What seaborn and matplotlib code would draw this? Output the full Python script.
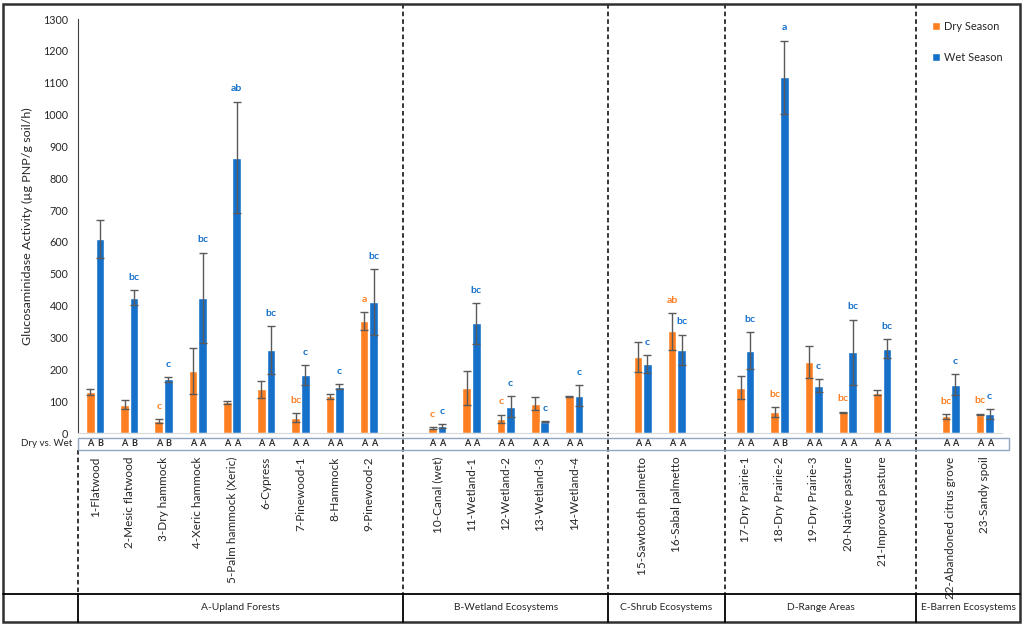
import matplotlib
matplotlib.use("Agg")
import matplotlib.pyplot as plt
import matplotlib.transforms as mtransforms
from matplotlib.lines import Line2D
from matplotlib.patches import Rectangle
import seaborn as sns
import numpy as np
import pandas as pd

sites = ["1-Flatwood", "2-Mesic flatwood", "3-Dry hammock", "4-Xeric hammock",
         "5-Palm hammock (Xeric)", "6-Cypress", "7-Pinewood-1", "8-Hammock",
         "9-Pinewood-2", "10-Canal (wet)", "11-Wetland-1", "12-Wetland-2",
         "13-Wetland-3", "14-Wetland-4", "15-Sawtooth palmetto", "16-Sabal palmetto",
         "17-Dry Prairie-1", "18-Dry Prairie-2", "19-Dry Prairie-3", "20-Native pasture",
         "21-Improved pasture", "22-Abandoned citrus grove", "23-Sandy spoil"]
# slot of each site on the x axis (empty slots separate the ecosystem groups)
slots = [0, 1, 2, 3, 4, 5, 6, 7, 8, 10, 11, 12, 13, 14, 16, 17, 19, 20, 21, 22, 23, 25, 26]

dry = [129, 89, 38, 195, 96, 137, 48, 115, 351, 16, 141, 45, 92, 115, 239, 319,
       142, 66, 223, 65, 127, 52, 58]
dry_err = [10, 15, 6, 72, 6, 26, 15, 9, 29, 2, 54, 13, 21, 2, 48, 58,
           36, 16, 50, 2, 9, 7, 3]
wet = [608, 425, 168, 424, 865, 260, 182, 146, 411, 22, 344, 82, 35, 117, 216, 262,
       259, 1117, 149, 253, 264, 152, 59]
wet_err = [60, 23, 8, 142, 175, 76, 30, 8, 104, 5, 63, 33, 2, 33, 28, 47,
           58, 115, 19, 103, 30, 32, 16]

dry_letters = ["", "", "c", "", "", "", "bc", "", "a", "c", "", "c", "", "", "", "ab",
               "", "bc", "", "bc", "", "bc", "bc"]
wet_letters = ["", "bc", "c", "bc", "ab", "bc", "c", "c", "bc", "c", "bc", "c", "c", "c",
               "c", "bc", "bc", "a", "c", "bc", "bc", "c", "c"]
dry_vs_wet = ["AB", "AB", "AB", "AA", "AA", "AA", "AA", "AA", "AA", "AA", "AA", "AA",
              "AA", "AA", "AA", "AA", "AA", "AB", "AA", "AA", "AA", "AA", "AA"]

groups = ["A-Upland Forests", "B-Wetland Ecosystems", "C-Shrub Ecosystems",
          "D-Range Areas", "E-Barren Ecosystems"]
dividers = [9, 15, 18.4, 24]
ylab = "Glucosaminidase Activity (µg PNP/g soil/h)"

orange = "#FD7F22"
blue = "#1570CA"

sns.set_style("white")
plt.rcParams["font.family"] = ["Lato", "DejaVu Sans"]

W, H = 1024, 625
fig = plt.figure(figsize=(10.24, 6.25), dpi=100)
ax = fig.add_axes([78 / W, 1 - 433 / H, 924 / W, 414 / H])
renderer = fig.canvas.get_renderer()


def fit(text, px, weight="normal"):
    # font size that makes `text` about `px` pixels wide
    t = fig.text(0, 0, text, fontsize=10, fontweight=weight)
    w = t.get_window_extent(renderer).width
    t.remove()
    return 10 * px / w


tick_fs = fit("5-Palm hammock (Xeric)", 126)
ytick_fs = fit("1300", 25)
ylab_fs = fit(ylab, 236)
group_fs = fit("E-Barren Ecosystems", 95)
dvw_fs = fit("Dry vs. Wet", 51)
leg_fs = fit("Dry Season", 55)
let_fs = fit("bc", 11, "bold")

df = pd.DataFrame({
    "slot": slots * 2,
    "value": dry + wet,
    "season": ["Dry Season"] * len(dry) + ["Wet Season"] * len(wet),
})
sns.barplot(data=df, x="slot", y="value", hue="season", native_scale=True,
            width=0.56, gap=0.1, palette=[orange, blue], saturation=1,
            errorbar=None, ax=ax)

off = 0.14
xs = np.array(slots, dtype=float)
ax.errorbar(xs - off, dry, yerr=dry_err, fmt="none", ecolor="#5a5a5a",
            elinewidth=1, capsize=3, capthick=1)
ax.errorbar(xs + off, wet, yerr=wet_err, fmt="none", ecolor="#5a5a5a",
            elinewidth=1, capsize=3, capthick=1)

for x, v, e, t in zip(xs, dry, dry_err, dry_letters):
    if t:
        ax.annotate(t, (x - off, v + e), xytext=(0, 6), textcoords="offset points",
                    ha="center", va="bottom", color=orange, fontsize=let_fs, fontweight="bold")
for x, v, e, t in zip(xs, wet, wet_err, wet_letters):
    if t:
        ax.annotate(t, (x + off, v + e), xytext=(0, 6), textcoords="offset points",
                    ha="center", va="bottom", color=blue, fontsize=let_fs, fontweight="bold")

ax.set_xlim(-0.5, 26.5)
ax.set_ylim(0, 1300)
ax.set_yticks(np.arange(0, 1301, 100))
ax.tick_params(axis="y", labelsize=ytick_fs, length=4, width=1, color="#404040", pad=3)
ax.set_xticks(slots)
ax.set_xticklabels(sites, rotation=90, fontsize=tick_fs)
ax.tick_params(axis="x", length=0, pad=17)
ax.set_xlabel("")
ax.set_ylabel(ylab, fontsize=ylab_fs, va="center")
ax.yaxis.set_label_coords((27 - 78) / 924, 0.5)
for s in ["top", "right"]:
    ax.spines[s].set_visible(False)
ax.spines["left"].set_color("#404040")
ax.spines["bottom"].set_color("#d9d9d9")

h, l = ax.get_legend_handles_labels()
ax.legend(h, l, loc="upper left", bbox_to_anchor=(932 / W, 1 - 21 / H),
          bbox_transform=fig.transFigure, frameon=False, fontsize=leg_fs,
          borderpad=0, borderaxespad=0,
          handlelength=0.75, handleheight=0.75, handletextpad=0.35, labelspacing=1.8)

# dashed dividers between ecosystem groups
tr = mtransforms.blended_transform_factory(ax.transData, fig.transFigure)
table_top = 1 - 594 / H
for d in dividers:
    ax.plot([d, d], [1 - 4 / H, table_top], transform=tr, clip_on=False,
            color="black", lw=1.1, ls=(0, (3, 2)))
ax.plot([-0.5, -0.5], [1 - 450 / H, table_top], transform=tr, clip_on=False,
        color="black", lw=1.1, ls=(0, (3, 2)))

# Dry vs. Wet row
fig.add_artist(Rectangle((78 / W, 1 - 450 / H), (1009 - 78) / W, 12 / H,
                         transform=fig.transFigure, fill=False,
                         edgecolor="#8fa6c4", lw=1))
fig.text(72 / W, 1 - 444 / H, "Dry vs. Wet", ha="right", va="center", fontsize=dvw_fs)
for x, pair in zip(xs, dry_vs_wet):
    ax.text(x - off, 1 - 444 / H, pair[0], transform=tr, ha="center", va="center",
            fontsize=6.5, fontweight="bold")
    ax.text(x + off, 1 - 444 / H, pair[1], transform=tr, ha="center", va="center",
            fontsize=6.5, fontweight="bold")

# group table at the bottom
fig.add_artist(Line2D([3 / W, 1020 / W], [table_top, table_top],
                      transform=fig.transFigure, color="black", lw=1.3))
to_fig = lambda xd: fig.transFigure.inverted().transform(ax.transData.transform((xd, 0)))[0]
edges = [to_fig(e) for e in [-0.5] + dividers] + [1020 / W]
for i, g in enumerate(groups):
    fig.add_artist(Line2D([edges[i], edges[i]], [3 / H, table_top],
                          transform=fig.transFigure, color="black", lw=1.3))
    fig.text((edges[i] + edges[i + 1]) / 2, 1 - 608 / H, g, ha="center", va="center",
             fontsize=group_fs)

# outer frame
fig.add_artist(Rectangle((3 / W, 3 / H), 1017 / W, 618 / H, transform=fig.transFigure,
                         fill=False, edgecolor="#303030", lw=1.8))

fig.savefig("out.png", dpi=100)
